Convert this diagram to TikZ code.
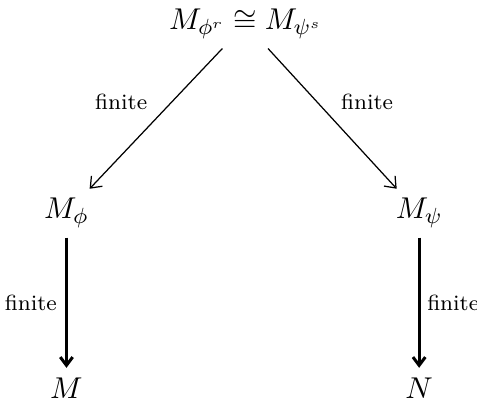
\documentclass[tikz,border=0pt]{standalone}
\usepackage{amsmath}
\usepackage{amssymb}
\usepackage{tikz}
\usetikzlibrary{
  arrows.meta,
  positioning
}

\begin{document}
\begin{tikzpicture}[
    obj/.style={anchor=base, inner sep=3.3pt, font=\fontsize{11}{13}\selectfont},
    lbl/.style={font=\fontsize{8}{10}\selectfont, inner sep=3pt},
    thinmap/.style={line width=0.45pt, -{Straight Barb[length=3.5pt, width=5.5pt]}},
    thickmap/.style={line width=1.1pt, -{Straight Barb[length=3pt, width=4.5pt]}}
]
    % fix the canvas to the reference size
    \useasboundingbox (0,0) rectangle (6.10,5.14);

    % objects (placed on their baselines)
    \node[obj] (top)  at (3.14,4.76) {$M_{\phi^r}\cong M_{\psi^s}$};
    \node[obj] (mphi) at (0.85,2.34) {$M_\phi$};
    \node[obj] (mpsi) at (5.36,2.34) {$M_\psi$};
    \node[obj] (m)    at (0.85,0.05) {$M$};
    \node[obj] (n)    at (5.36,0.05) {$N$};

    % diagonal maps from the top
    \draw[thinmap] (top) -- node[lbl, midway, above left] {finite} (mphi);
    \draw[thinmap] (top) -- node[lbl, midway, above right] {finite} (mpsi);

    % vertical maps down to the bases
    \draw[thickmap] (mphi) -- node[lbl, midway, left] {finite} (m);
    \draw[thickmap] (mpsi) -- node[lbl, midway, right, inner sep=2.4pt] {finite} (n);
\end{tikzpicture}
\end{document}
